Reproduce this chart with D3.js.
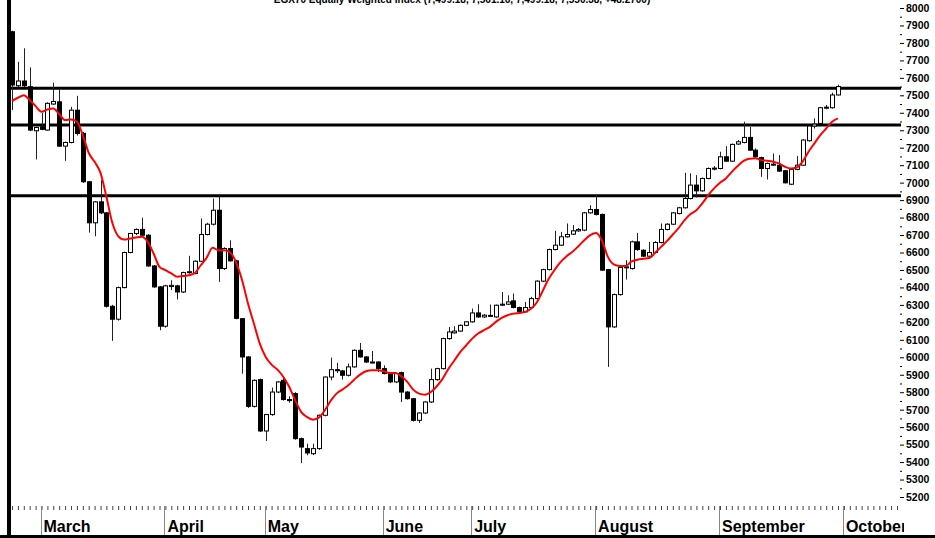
<!DOCTYPE html>
<html>
<head>
<meta charset="utf-8">
<script src="https://cdn.jsdelivr.net/npm/d3@7"></script>
<style>
  body { margin: 0; background: #fff; }
  svg { display: block; font-family: "Liberation Sans", Arial, sans-serif; }
</style>
</head>
<body>
<svg width="935" height="538"></svg>
<script>
// daily candles, last days of February to end of September
const open = [7864,7555,7582,7549,7297,7320,7301,7450,7463,7209,7230,7415,7282,7005,6770,6890,6827,6292,6218,6399,
  6600,6709,6732,6699,6523,6403,6178,6405,6409,6374,6485,6480,6550,6703,6762,6842,6508,6623,6552,6221,
  6002,5719,5872,5578,5672,5801,5868,5758,5792,5534,5477,5448,5477,5668,5887,5929,5922,5897,5945,6040,
  6002,5973,5973,5935,5907,5859,5912,5801,5763,5639,5681,5744,5872,5935,6107,6140,6150,6183,6203,6254,
  6231,6237,6231,6298,6304,6323,6285,6260,6285,6336,6436,6502,6617,6642,6690,6705,6724,6728,6827,6846,
  6818,6502,6174,6359,6514,6508,6661,6613,6579,6600,6657,6732,6762,6823,6856,6909,6986,6953,7024,7081,
  7081,7148,7123,7221,7230,7259,7186,7144,7081,7106,7100,7068,6991,7076,7100,7240,7324,7339,7429,7429,
  7502];
const high = [7870,7692,7769,7660,7320,7400,7460,7572,7536,7235,7434,7497,7290,7010,6895,7014,6832,6300,6405,6605,
  6712,6738,6800,6705,6528,6408,6415,6441,6415,6490,6581,6555,6795,6770,6909,6923,6630,6670,6558,6225,
  6006,5874,5878,5676,5826,5863,5884,5777,5800,5540,5505,5505,5672,5890,5998,5968,5928,5964,6045,6082,
  6008,6036,5978,5954,5912,5912,5918,5806,5768,5685,5748,5935,5940,6112,6174,6178,6188,6208,6279,6304,
  6248,6302,6302,6374,6355,6365,6290,6317,6346,6441,6507,6622,6724,6718,6766,6757,6740,6832,6871,6928,
  6823,6506,6365,6520,6556,6668,6712,6618,6661,6665,6766,6768,6832,6861,7056,7053,7043,7029,7087,7095,
  7177,7209,7224,7244,7349,7320,7196,7149,7115,7167,7158,7073,7081,7152,7249,7329,7368,7434,7445,7515,
  7561];
const low = [7415,7548,7548,7295,7133,7300,7298,7445,7205,7125,7225,7270,6998,6714,6693,6820,6285,6094,6210,6395,
  6595,6700,6695,6518,6398,6155,6170,6385,6331,6368,6478,6475,6545,6698,6755,6432,6500,6548,6218,5906,
  5710,5712,5572,5521,5665,5795,5752,5740,5528,5394,5439,5440,5470,5662,5868,5910,5872,5890,5940,5998,
  5968,5965,5916,5902,5852,5852,5744,5758,5632,5624,5676,5738,5866,5930,6100,6135,6145,6178,6198,6226,
  6226,6232,6226,6293,6299,6280,6255,6255,6280,6330,6430,6497,6612,6637,6685,6700,6718,6722,6822,6812,
  6495,5945,6168,6353,6445,6502,6610,6574,6574,6595,6652,6727,6757,6818,6851,6904,6915,6948,7019,7070,
  7076,7118,7118,7216,7225,7181,7143,7033,7018,7095,7061,6995,6986,7071,7095,7235,7310,7334,7420,7424,
  7499];
const close = [7559,7582,7555,7301,7316,7305,7454,7465,7209,7230,7415,7282,7005,6770,6890,6827,6292,6218,6399,6600,
  6709,6732,6699,6523,6403,6178,6409,6412,6374,6485,6490,6550,6703,6762,6842,6508,6623,6552,6223,6002,
  5719,5868,5578,5672,5801,5859,5758,5752,5534,5486,5452,5477,5668,5887,5929,5925,5897,5945,6040,6002,
  5973,5970,5935,5907,5859,5907,5801,5763,5639,5681,5744,5872,5935,6107,6145,6150,6183,6203,6254,6231,
  6241,6240,6298,6304,6317,6285,6260,6285,6336,6436,6502,6617,6642,6690,6703,6724,6732,6827,6846,6818,
  6499,6174,6359,6514,6518,6661,6617,6579,6600,6657,6732,6762,6827,6856,6909,6986,6953,7024,7081,7083,
  7148,7123,7219,7234,7259,7186,7148,7081,7110,7104,7066,6999,7076,7100,7244,7324,7335,7429,7432,7502,
  7550];
// red moving-average line
const ma = [7467,7486,7501,7473,7438,7406,7419,7425,7393,7358,7362,7349,7272,7171,7119,7056,6919,6770,6694,6674,
  6680,6686,6690,6661,6594,6518,6499,6480,6461,6465,6470,6483,6527,6571,6627,6613,6613,6600,6542,6441,
  6308,6193,6078,6002,5958,5929,5887,5830,5754,5687,5658,5643,5654,5696,5750,5792,5815,5840,5872,5901,
  5920,5926,5926,5920,5910,5910,5891,5859,5815,5792,5786,5801,5834,5878,5935,5983,6031,6069,6107,6136,
  6155,6174,6203,6226,6241,6250,6254,6260,6279,6317,6384,6451,6502,6546,6579,6604,6636,6670,6699,6712,
  6668,6575,6532,6523,6522,6549,6559,6564,6568,6598,6632,6665,6703,6741,6785,6820,6842,6881,6928,6967,
  6999,7024,7062,7095,7125,7137,7139,7129,7125,7120,7110,7091,7081,7087,7120,7177,7225,7272,7310,7349,
  7368];

const monthNames = ["March", "April", "May", "June", "July", "August", "September", "October"];
const monthStart = [5, 26, 43, 63, 78, 99, 120, 141];
const levels = [7540, 7330, 6925];
const yTicks = d3.range(5200, 8001, 100);
const title = "EGX70 Equally Weighted Index (7,499.18, 7,561.16, 7,499.18, 7,550.38, +48.2700)";

const width = 935, height = 538;
const lastSlot = 151;

const candles = open.map((o, i) => ({ i, o, h: high[i], l: low[i], c: close[i] }));

const x = d3.scaleLinear().domain([0, 140]).range([12, 838]);
const y = d3.scaleLinear().domain([5200, 8000]).range([497, 8]);

const svg = d3.select("svg");

svg.append("defs").append("clipPath").attr("id", "clipx")
  .append("rect").attr("x", 0).attr("y", 0).attr("width", 904).attr("height", height);

// title, cut at the top edge like the source image
svg.append("text")
  .attr("x", 462).attr("y", 3)
  .attr("text-anchor", "middle")
  .style("font-size", "10px").style("font-weight", "bold")
  .text(title);

// support / resistance lines
svg.selectAll(".level").data(levels).join("line")
  .attr("x1", 8).attr("x2", 901)
  .attr("y1", d => y(d)).attr("y2", d => y(d))
  .attr("stroke", "#000").attr("stroke-width", 3);

// right axis
const yAxis = svg.append("g")
  .attr("transform", "translate(900,0)")
  .call(d3.axisRight(y).tickValues(yTicks).tickSize(4).tickPadding(2).tickFormat(d3.format("d")));
yAxis.select(".domain").remove();
yAxis.selectAll("text").style("font-size", "10.5px").style("font-weight", "bold")
  .attr("font-family", "Liberation Sans, Arial, sans-serif");

svg.append("g")
  .attr("transform", "translate(900,0)")
  .call(d3.axisRight(y).tickValues(yTicks.slice(0, -1).map(v => v + 50)).tickSize(2).tickFormat(""))
  .select(".domain").remove();

// candles
const g = svg.append("g").selectAll(".candle").data(candles).join("g").attr("class", "candle");

g.append("line")
  .attr("x1", d => Math.round(x(d.i)) + 0.5).attr("x2", d => Math.round(x(d.i)) + 0.5)
  .attr("y1", d => y(d.h)).attr("y2", d => y(d.l))
  .attr("stroke", "#222").attr("stroke-width", 1);

g.append("rect")
  .attr("x", d => Math.round(x(d.i)) - 1.5)
  .attr("width", 4)
  .attr("y", d => y(Math.max(d.o, d.c)))
  .attr("height", d => Math.max(1, y(Math.min(d.o, d.c)) - y(Math.max(d.o, d.c))))
  .attr("fill", d => d.c >= d.o ? "#fff" : "#000")
  .attr("stroke", "#000").attr("stroke-width", 1);

// moving average
svg.append("path")
  .datum(ma)
  .attr("fill", "none")
  .attr("stroke", "#ff0000")
  .attr("stroke-width", 2)
  .attr("d", d3.line().x((d, i) => x(i)).y(d => y(d)).curve(d3.curveMonotoneX));

// bottom time axis
const xAxis = svg.append("g")
  .attr("clip-path", "url(#clipx)")
  .attr("transform", "translate(0,506)")
  .call(d3.axisBottom(x).tickValues(d3.range(0, lastSlot)).tickSize(4).tickFormat(""));
xAxis.select(".domain").remove();
xAxis.selectAll(".tick line").attr("stroke", "#444");

const months = svg.append("g").attr("clip-path", "url(#clipx)");
months.selectAll("line").data(monthStart).join("line")
  .attr("x1", d => Math.round(x(d)) - 0.5).attr("x2", d => Math.round(x(d)) - 0.5)
  .attr("y1", 506).attr("y2", 536)
  .attr("stroke", "#888").attr("stroke-width", 1);
months.selectAll("text").data(monthStart).join("text")
  .attr("x", d => x(d) + 2)
  .attr("y", 532)
  .style("font-size", "16px").style("font-weight", "bold")
  .text((d, i) => monthNames[i]);

// frame
svg.append("rect").attr("x", 7).attr("y", 0).attr("width", 4).attr("height", height).attr("fill", "#000");
svg.append("rect").attr("x", 0).attr("y", 535).attr("width", width).attr("height", 3).attr("fill", "#000");
</script>
</body>
</html>
